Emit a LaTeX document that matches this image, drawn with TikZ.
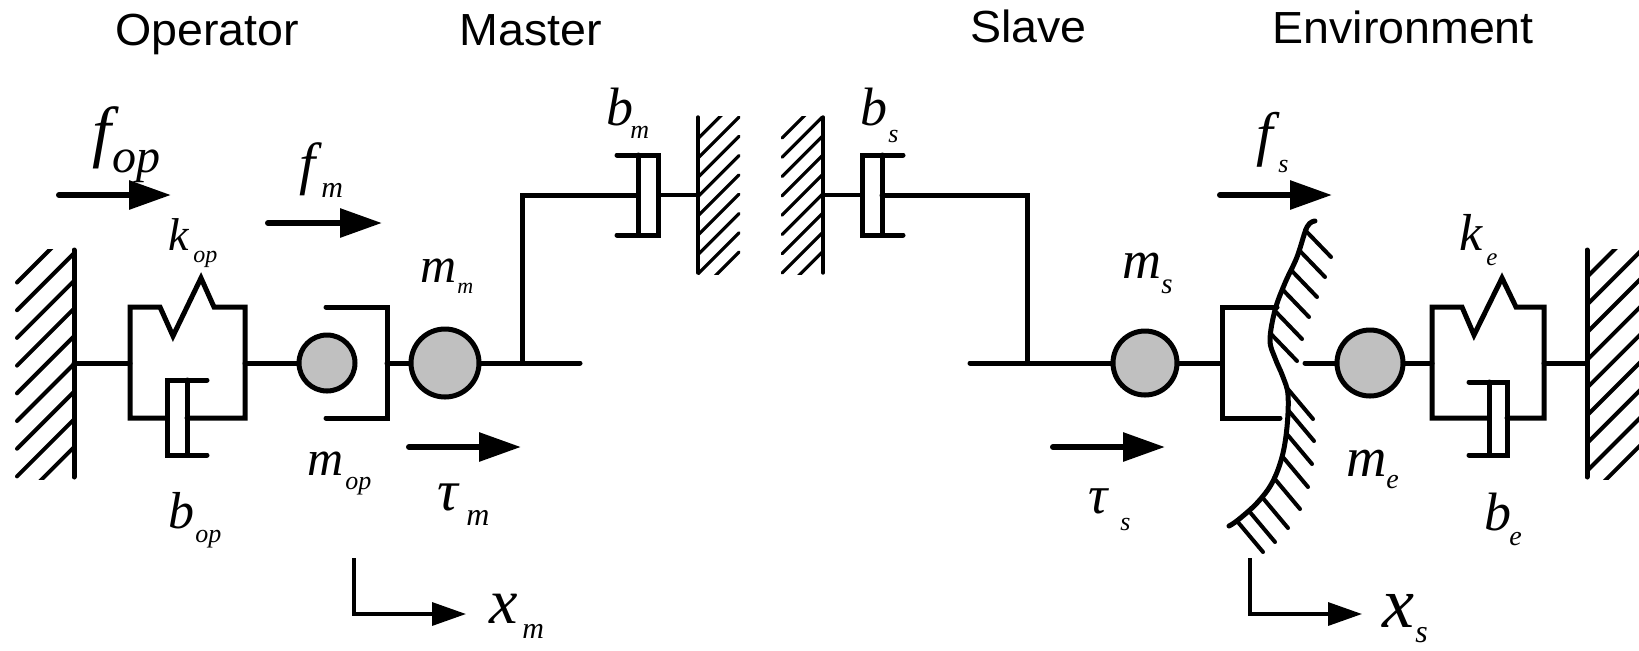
\documentclass[tikz,border=0pt]{standalone}
\usepackage{fontspec}
\setmainfont{Liberation Serif}
\newfontfamily\titlefont[FakeStretch=1.035]{Liberation Sans}
\newfontfamily\tnr{Liberation Serif}
\usetikzlibrary{arrows.meta}
\definecolor{ballgray}{HTML}{C0C0C0}
\newcommand{\mylab}[6]{\tnr\itshape\rlap{\fontsize{#2}{#2}\selectfont #1}\hspace{#3}\raisebox{-#4}{\fontsize{#6}{#6}\selectfont #5}}
\begin{document}
\begin{tikzpicture}[x=0.5pt,y=-0.5pt,
  mech/.style={line width=2.5pt, line cap=round},
  rod/.style={line width=1.7pt, line cap=round},
  hatch/.style={line width=2pt, line cap=round},
  thinhatch/.style={line width=1.6pt, line cap=round},
  force/.style={line width=3pt, line cap=round, -{Triangle[length=21pt,width=14pt]}},
  axis/.style={line width=1.7pt, -{Triangle[length=17pt,width=11.5pt]}},
  ball/.style={circle, draw, line width=2.5pt, fill=ballgray, inner sep=0pt},
  lbl/.style={inner sep=0pt, anchor=base west},
  title/.style={inner sep=0pt, anchor=base west, font=\titlefont\fontsize{22.5}{22.5}\selectfont}]
\useasboundingbox (0,0) rectangle (1639,650);

% titles
\node[title] (tOp) at (115,45) {Operator};
\node[title] (tMa) at (459,45) {Master};
\node[title] (tSl) at (970,42) {Slave};
\node[title] (tEn) at (1272,43) {Environment};

% walls
\draw[mech] (74,250) -- (74,477);
\begin{scope}
  \clip (10,249) rectangle (74,479);
  \foreach \k in {0,...,8} \draw[hatch] (74,{225.5+27.7*\k}) -- ++(-57,57);
\end{scope}
\draw[mech] (1587,250) -- (1587,477);
\begin{scope}
  \clip (1587,249) rectangle (1639,479);
  \foreach \k in {0,...,8} \draw[hatch] (1587,{277+27.7*\k}) -- ++(57,-57);
\end{scope}
\draw[rod] (698,117) -- (698,273);
\begin{scope}
  \clip (698,116) rectangle (740,274);
  \foreach \k in {-1,...,7} \draw[thinhatch] (698,{158+19.3*\k}) -- ++(41,-41);
\end{scope}
\draw[rod] (823,117) -- (823,273);
\begin{scope}
  \clip (781,116) rectangle (823,274);
  \foreach \k in {0,...,8} \draw[thinhatch] (782,{138+19.3*\k}) -- ++(41,-41);
\end{scope}

% connector coordinates
\coordinate (wL) at (74,363);
\coordinate (bxL) at (130,363);
\coordinate (bxR) at (245,363);
\coordinate (cupR) at (387,363);
\coordinate (mEnd) at (580,363);
\coordinate (mJ) at (522,363);
\coordinate (mTop) at (522,195);
\coordinate (bmL) at (638,195);
\coordinate (bmR) at (658,195);
\coordinate (wML) at (698,195);
\coordinate (wMR) at (823,195);
\coordinate (bsL) at (862,195);
\coordinate (bsR) at (882,195);
\coordinate (sTop) at (1027,195);
\coordinate (sJ) at (1027,363);
\coordinate (sEnd) at (970,363);
\coordinate (cupL) at (1222,363);
\coordinate (surf) at (1305,363);
\coordinate (exL) at (1432,363);
\coordinate (exR) at (1544,363);
\coordinate (wR) at (1587,363);

% operator spring-damper
\draw[mech] (167,418) -- (130,418) -- (130,307) -- (160,307) -- (173,336) -- (201,278) -- (214,307) -- (245,307) -- (245,418) -- (187,418);
\draw[mech] (207,380) -- (167,380) -- (167,455) -- (207,455) (187,380) -- (187,455);
% environment spring-damper
\draw[mech] (1489,418) -- (1432,418) -- (1432,307) -- (1462,307) -- (1474,335) -- (1502,278) -- (1516,307) -- (1544,307) -- (1544,418) -- (1507,418);
\draw[mech] (1469,382) -- (1507,382) -- (1507,455) -- (1469,455) (1489,382) -- (1489,455);
% master / slave dampers
\draw[mech] (617,155) -- (658,155) -- (658,235) -- (617,235) (638,155) -- (638,235);
\draw[mech] (903,155) -- (862,155) -- (862,235) -- (903,235) (882,155) -- (882,235);
% cups
\draw[mech] (326,307) -- (387,307) -- (387,418) -- (326,418);
\draw[mech] (1277,307) -- (1222,307) -- (1222,418) -- (1280,418);

% environment surface
\draw[mech] plot[smooth, tension=0.6] coordinates {(1315,221) (1307,227) (1297,257) (1285,283) (1275,310) (1270,340) (1275,358) (1283,377) (1288,395) (1287,427) (1282,457) (1272,483) (1257,503) (1238,520) (1229,526)};
\foreach \x/\y in {1305/230, 1299/250, 1291/270, 1283/290, 1276/312, 1271/334}
  \draw[hatch] (\x,\y) -- ++(26,27);
\foreach \x/\y in {1287/388, 1288/410, 1286/433, 1282/456, 1274/478, 1262/497, 1249/511, 1237/521}
  \draw[hatch] (\x,\y) -- ++(26,31);

% masses
\node[ball, minimum size=28pt] (mop) at (327,363) {};
\node[ball, minimum size=34pt] (mm) at (445,363) {};
\node[ball, minimum size=32pt] (ms) at (1145,363) {};
\node[ball, minimum size=33pt] (me) at (1370,363) {};

% connectors
\draw[mech] (wL) -- (bxL);
\draw[mech] (bxR) -- (mop);
\draw[mech] (cupR) -- (mm);
\draw[mech] (mm) -- (mEnd);
\draw[mech] (mJ) -- (mTop) -- (bmL);
\draw[rod] (bmR) -- (wML);
\draw[rod] (wMR) -- (bsL);
\draw[mech] (bsR) -- (sTop) -- (sJ);
\draw[mech] (sEnd) -- (ms);
\draw[mech] (ms) -- (cupL);
\draw[mech] (surf) -- (me);
\draw[mech] (me) -- (exL);
\draw[mech] (exR) -- (wR);

% force arrows
\coordinate (fopA) at (59,195);   \coordinate (fopB) at (171,195);
\coordinate (fmA) at (268,223);   \coordinate (fmB) at (382,223);
\coordinate (tmA) at (409,447);   \coordinate (tmB) at (521,447);
\coordinate (fsA) at (1220,195);  \coordinate (fsB) at (1332,195);
\coordinate (tsA) at (1053,447);  \coordinate (tsB) at (1165,447);
\draw[force] (fopA) -- (fopB);
\draw[force] (fmA) -- (fmB);
\draw[force] (tmA) -- (tmB);
\draw[force] (fsA) -- (fsB);
\draw[force] (tsA) -- (tsB);

% position axes
\coordinate (xm0) at (354,558); \coordinate (xm1) at (354,614); \coordinate (xm2) at (466,614);
\coordinate (xs0) at (1250,558); \coordinate (xs1) at (1250,614); \coordinate (xs2) at (1362,614);
\draw[axis] (xm0) -- (xm1) -- (xm2);
\draw[axis] (xs0) -- (xs1) -- (xs2);

% labels
\node[lbl] (lfop) at (92,154)  {\mylab{f}{34}{10pt}{9pt}{op}{24}};
\node[lbl] (lfm)  at (299,183) {\mylab{f}{29}{11pt}{7pt}{m}{15}};
\node[lbl] (lkop) at (168,250) {\mylab{k}{23}{12.5pt}{6pt}{op}{12}};
\node[lbl] (lmm)  at (420,282) {\mylab{m}{25}{18.5pt}{5.5pt}{m}{11}};
\node[lbl] (lmop) at (307,475) {\mylab{m}{25}{19pt}{7pt}{op}{13}};
\node[lbl] (lbop) at (168,528) {\mylab{b}{26}{13.5pt}{7pt}{op}{13}};
\node[lbl] (ltm)  at (437,510) {\mylab{\char"03C4}{29}{14.5pt}{7.5pt}{m}{16}};
\node[lbl] (lxm)  at (489,623) {\mylab{x}{32}{16.5pt}{7.5pt}{m}{15}};
\node[lbl] (lbm)  at (606,125) {\mylab{b}{27}{12pt}{6.5pt}{m}{13}};
\node[lbl] (lbs)  at (860,125) {\mylab{b}{27}{14pt}{8.5pt}{s}{13}};
\node[lbl] (lfs)  at (1256,154) {\mylab{f}{30}{11pt}{9pt}{s}{13}};
\node[lbl] (lms)  at (1122,278) {\mylab{m}{27}{19.5pt}{7.5pt}{s}{14.5}};
\node[lbl] (lke)  at (1459,250) {\mylab{k}{26}{13.5pt}{7.5pt}{e}{12.5}};
\node[lbl] (lme)  at (1346,476) {\mylab{m}{28}{20pt}{6pt}{e}{14}};
\node[lbl] (lbe)  at (1484,530) {\mylab{b}{27}{12.5pt}{7.5pt}{e}{14}};
\node[lbl] (lts)  at (1088,513) {\mylab{\char"03C4}{27}{16pt}{8.5pt}{s}{13}};
\node[lbl] (lxs)  at (1382,627) {\mylab{x}{36}{16.5pt}{7.5pt}{s}{16}};
\end{tikzpicture}
\end{document}
